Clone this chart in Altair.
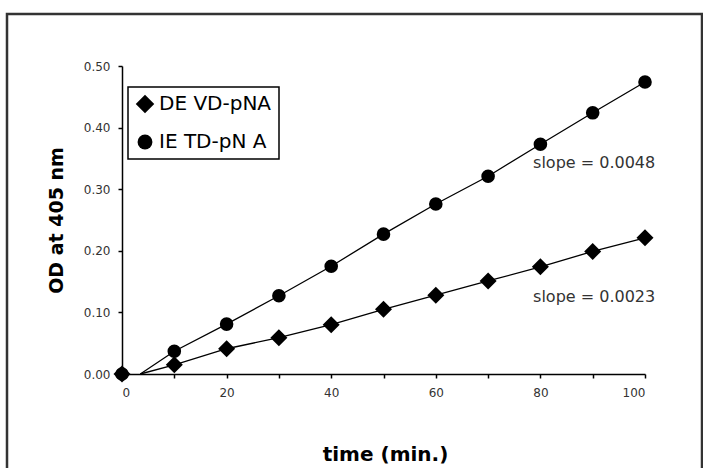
import altair as alt
import pandas as pd

# ---- data ----
time_min = [0, 10, 20, 30, 40, 50, 60, 70, 80, 90, 100]
devd_od = [0.000, 0.015, 0.041, 0.059, 0.080, 0.105, 0.128, 0.151, 0.174, 0.199, 0.221]
ietd_od = [0.000, 0.037, 0.081, 0.127, 0.175, 0.227, 0.276, 0.321, 0.373, 0.424, 0.474]

# fitted lines start slightly right of the origin on the x axis
line_time = [3.5, 10, 20, 30, 40, 50, 60, 70, 80, 90, 100]
devd_line = [0.000, 0.015, 0.041, 0.059, 0.080, 0.105, 0.128, 0.151, 0.174, 0.199, 0.221]
ietd_line = [0.000, 0.037, 0.081, 0.127, 0.175, 0.227, 0.276, 0.321, 0.373, 0.424, 0.474]

series_names = ["DE VD-pNA", "IE TD-pN A"]
series_shapes = ["M-1.25,0L0,-1.25L1.25,0L0,1.25Z", "circle"]

ann_text = ["slope = 0.0048", "slope = 0.0023"]
ann_time = [78.6, 78.6]
ann_od = [0.343, 0.125]

y_ticks = [0.0, 0.05, 0.10, 0.15, 0.20, 0.25, 0.30, 0.35, 0.40, 0.45, 0.50]
x_ticks = [0, 10, 20, 30, 40, 50, 60, 70, 80, 90, 100]

pts = pd.DataFrame({
    "time": time_min + time_min,
    "od": devd_od + ietd_od,
    "series": [series_names[0]] * len(time_min) + [series_names[1]] * len(time_min),
})
lines = pd.DataFrame({
    "time": line_time + line_time,
    "od": devd_line + ietd_line,
    "series": [series_names[0]] * len(line_time) + [series_names[1]] * len(line_time),
})
ann = pd.DataFrame({"time": ann_time, "od": ann_od, "text": ann_text})

FONT = "DejaVu Sans"

x_enc = alt.X(
    "time:Q",
    scale=alt.Scale(domain=[0, 100], nice=False, zero=False),
    axis=alt.Axis(
        values=x_ticks,
        labelExpr="datum.value % 20 == 0 ? datum.label : ''",
        title="time (min.)",
        titleFont=FONT, titleFontSize=20, titleFontWeight="bold", titleColor="black",
        titleX=263, titleY=80, titleAlign="center", titleBaseline="middle",
        labelFont=FONT, labelFontSize=12, labelColor="#333333", labelPadding=9,
        tickSize=4, tickWidth=1.5, tickColor="black",
        domainColor="black", domainWidth=1.5, grid=False,
    ),
)
y_enc = alt.Y(
    "od:Q",
    scale=alt.Scale(domain=[0, 0.5], nice=False),
    axis=alt.Axis(
        values=y_ticks,
        labelExpr="round(datum.value * 100) % 10 == 0 ? format(datum.value, '.2f') : ''",
        title="OD at 405 nm",
        titleFont=FONT, titleFontSize=19, titleFontWeight="bold", titleColor="black",
        titleAngle=-90, titleX=-66, titleY=154, titleAlign="center", titleBaseline="middle",
        labelFont=FONT, labelFontSize=12, labelColor="#333333", labelPadding=8,
        tickSize=4, tickWidth=1.5, tickColor="black",
        domainColor="black", domainWidth=1.5, grid=False,
    ),
)

frame = alt.Chart(pd.DataFrame({"a": [0]})).mark_rect(
    fillOpacity=0, stroke="#333333", strokeWidth=2.5
).encode(
    x=alt.value(-115), x2=alt.value(580), y=alt.value(-52), y2=alt.value(430)
)

line_layer = alt.Chart(lines).mark_line(color="black", strokeWidth=1.3).encode(
    x=x_enc, y=y_enc, detail="series:N"
)

point_layer = alt.Chart(pts).mark_point(
    filled=True, opacity=1, color="black", size=185
).encode(
    x="time:Q",
    y="od:Q",
    shape=alt.Shape(
        "series:N",
        scale=alt.Scale(domain=series_names, range=series_shapes),
        legend=alt.Legend(
            title=None, orient="none", legendX=6, legendY=21,
            strokeColor="black", fillColor="white", padding=7, rowPadding=18,
            symbolSize=220, symbolFillColor="black", symbolStrokeColor="black",
            symbolStrokeWidth=0, labelFont=FONT, labelFontSize=20, labelColor="black",
            labelOffset=4, labelLimit=400,
        ),
    ),
)

text_layer = alt.Chart(ann).mark_text(
    align="left", baseline="middle", font=FONT, fontSize=16, color="#333333"
).encode(x="time:Q", y="od:Q", text="text:N")

chart = alt.layer(frame, line_layer, point_layer, text_layer).properties(
    width=523,
    height=308,
    autosize=alt.AutoSizeParams(type="none"),
    padding={"left": 122, "top": 66, "right": 58, "bottom": 94},
    background="white",
).configure_view(stroke=None).configure_legend(strokeWidth=1.5)

chart.save("out.html", embed_options={"renderer": "svg", "actions": False})
